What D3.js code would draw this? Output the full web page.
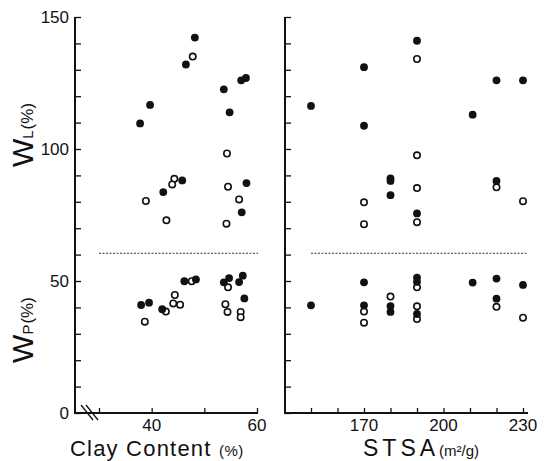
<!DOCTYPE html>
<html>
<head>
<meta charset="utf-8">
<script src="https://cdn.jsdelivr.net/npm/d3@7"></script>
<style>
  body { margin: 0; background: #fff; }
  text { font-family: "Liberation Sans", "DejaVu Sans", sans-serif; fill: #111; }
</style>
</head>
<body>
<div id="chart"></div>
<script>
// liquid limit (WL) and plastic limit (WP) vs clay content and STSA
// each point: [x, y]; solid = filled circle, open = hollow circle
var clayLiquidSolid = [[37.8,109.7],[39.7,116.7],[46.5,132],[48.2,142.2],[53.7,122.6],[54.8,113.9],
                       [57.0,126],[57.9,126.9],[45.8,88.1],[58.0,87.1],[42.2,83.7],[57.1,76]];
var clayLiquidOpen  = [[47.8,135],[54.3,98.3],[38.9,80.3],[44.3,88.7],[43.9,86.6],[54.5,85.7],
                       [56.6,80.9],[42.8,73],[54.2,71.7]];
var clayPlasticSolid = [[38.0,40.9],[39.5,41.8],[42.0,39.3],[46.2,49.9],[48.4,50.6],[53.7,49.5],
                        [54.7,51.1],[56.6,49.6],[57.3,52],[57.6,43.4]];
var clayPlasticOpen  = [[42.7,38.4],[47.6,49.9],[44.4,44.7],[44.1,41.5],[45.4,41],[38.7,34.6],
                        [54.5,47.6],[54.0,41.2],[54.4,38.3],[56.9,38.3],[56.9,36.3]];

var stsaLiquidSolid = [[150,116.3],[170,131],[170,108.8],[190,141],[211,113],[220,126],[230,126],
                       [180,88.9],[180,87.9],[180,82.5],[190,75.6],[220,87.9]];
var stsaLiquidOpen  = [[190,134.1],[190,97.6],[190,85.2],[190,72.3],[170,79.8],[170,71.5],
                       [220,85.5],[230,80.2]];
var stsaPlasticSolid = [[150,40.8],[170,49.5],[170,40.8],[180,40.5],[180,38.3],[190,51.3],[190,49.7],
                        [190,37.5],[211,49.4],[220,50.9],[220,43.3],[230,48.5]];
var stsaPlasticOpen  = [[170,38.4],[170,34.2],[180,44.1],[190,47.6],[190,40.4],[190,35.6],
                        [220,40.2],[230,36.1]];

var dividerValue = 60.5;
var yTicks = d3.range(0, 151, 10);
var yTickLabels = [0, 50, 100, 150];
var clayTicks = [30, 40, 50, 60];
var clayTickLabels = [40, 60];
var stsaTicks = d3.range(150, 231, 10);
var stsaTickLabels = [170, 200, 230];

var width = 550, height = 461;
var svg = d3.select("#chart").append("svg")
  .attr("width", width)
  .attr("height", height);

var y = d3.scaleLinear().domain([0, 150]).range([413, 17]);

var xClay = d3.scaleLinear().domain([30, 60]).range([99, 257]);
var xStsa = d3.scaleLinear().domain([150, 230]).range([311, 523]);

var ink = "#111";

function panel(x, left, right, xTicks, xLabels, showYLabels, liqS, liqO, plaS, plaO, divEnd) {
  var g = svg.append("g");

  // y axis: ticks pointing inward, labels only on left panel
  var yAxis = d3.axisRight(y)
    .tickValues(yTicks)
    .tickSize(6)
    .tickSizeOuter(0)
    .tickFormat("");
  var ya = g.append("g")
    .attr("transform", "translate(" + left + ",0)")
    .call(yAxis);
  ya.select(".domain").remove();
  ya.selectAll("line").attr("stroke", ink).attr("stroke-width", 1.3);
  g.append("line")
    .attr("x1", left).attr("x2", left)
    .attr("y1", y(150)).attr("y2", y(0) + 1)
    .attr("stroke", ink).attr("stroke-width", 2);

  if (showYLabels) {
    g.selectAll("text.ylab")
      .data(yTickLabels)
      .enter().append("text")
      .attr("class", "ylab")
      .attr("x", left - 6)
      .attr("y", d => y(d))
      .attr("dy", "0.36em")
      .attr("text-anchor", "end")
      .style("font-size", "17px")
      .text(d => d);
  }

  // x axis, ticks pointing up
  var xAxis = d3.axisTop(x)
    .tickValues(xTicks)
    .tickSize(5)
    .tickSizeOuter(0)
    .tickFormat("");
  var xa = g.append("g")
    .attr("transform", "translate(0," + y(0) + ")")
    .call(xAxis);
  xa.select(".domain").remove();
  xa.selectAll("line").attr("stroke", ink).attr("stroke-width", 1.3);
  g.append("line")
    .attr("x1", left).attr("x2", right)
    .attr("y1", y(0)).attr("y2", y(0))
    .attr("stroke", ink).attr("stroke-width", 2);

  g.selectAll("text.xlab")
    .data(xLabels)
    .enter().append("text")
    .attr("class", "xlab")
    .attr("x", d => x(d))
    .attr("y", y(0) + 18)
    .attr("text-anchor", "middle")
    .style("font-size", "17px")
    .text(d => d);

  // dotted divider between WL and WP
  g.append("line")
    .attr("x1", x.range()[0]).attr("x2", divEnd)
    .attr("y1", y(dividerValue)).attr("y2", y(dividerValue))
    .attr("stroke", "#333")
    .attr("stroke-width", 1)
    .attr("stroke-dasharray", "2,1.5");

  var solid = liqS.concat(plaS);
  var open = liqO.concat(plaO);

  g.selectAll("circle.open")
    .data(open)
    .enter().append("circle")
    .attr("class", "open")
    .attr("cx", d => x(d[0]))
    .attr("cy", d => y(d[1]))
    .attr("r", 3.2)
    .attr("fill", "#fff")
    .attr("stroke", ink)
    .attr("stroke-width", 1.6);

  g.selectAll("circle.solid")
    .data(solid)
    .enter().append("circle")
    .attr("class", "solid")
    .attr("cx", d => x(d[0]))
    .attr("cy", d => y(d[1]))
    .attr("r", 3.9)
    .attr("fill", ink);

  return g;
}

panel(xClay, 75, 258, clayTicks, clayTickLabels, true,
      clayLiquidSolid, clayLiquidOpen, clayPlasticSolid, clayPlasticOpen, 258);
panel(xStsa, 285, 528, stsaTicks, stsaTickLabels, false,
      stsaLiquidSolid, stsaLiquidOpen, stsaPlasticSolid, stsaPlasticOpen, 528);

// axis break on clay content axis
[0, 5].forEach(function(off) {
  svg.append("line")
    .attr("x1", 81 + off).attr("y1", 405)
    .attr("x2", 93 + off).attr("y2", 420)
    .attr("stroke", ink).attr("stroke-width", 1.3);
});

// x axis titles
var t1 = svg.append("text")
  .attr("x", 70).attr("y", 456)
  .style("font-size", "22px")
  .style("letter-spacing", "1.2px");
t1.append("tspan").text("Clay Content ");
t1.append("tspan").style("font-size", "15px").style("letter-spacing", "0.5px").text("(%)");

var t2 = svg.append("text")
  .attr("x", 363).attr("y", 456)
  .style("font-size", "23px");
t2.append("tspan").style("letter-spacing", "4px").text("STSA");
t2.append("tspan").style("font-size", "15px").text("(m\u00b2/g)");

// y axis titles
function yTitle(cy, sub) {
  var t = svg.append("text")
    .attr("transform", "translate(33," + cy + ") rotate(-90)")
    .attr("text-anchor", "middle")
    .style("font-size", "30px");
  t.append("tspan").text("W");
  t.append("tspan").style("font-size", "15px").text(sub);
  t.append("tspan").style("font-size", "17px").attr("dx", 1).text("(%)");
}
yTitle(135, "L");
yTitle(330, "P");
</script>
</body>
</html>
